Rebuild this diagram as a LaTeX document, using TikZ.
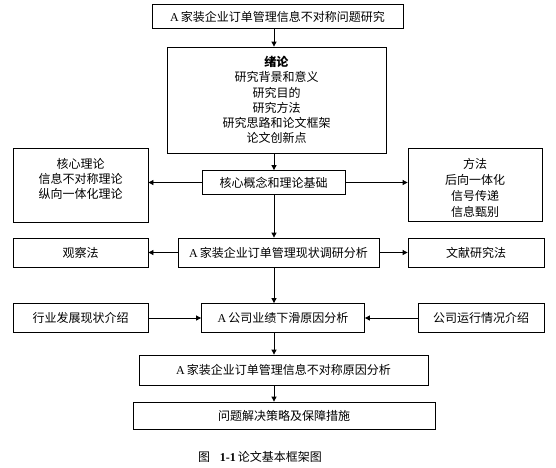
\documentclass[tikz,border=0pt]{standalone}
\usepackage{fontspec}
\setmainfont{Noto Sans CJK SC}
\newfontfamily\serif{Liberation Serif}
\usetikzlibrary{arrows.meta}
\begin{document}
\begin{tikzpicture}[x=1pt,y=-1pt,
  box/.style={draw,line width=0.8pt,rectangle,inner sep=0pt,align=center,font=\fontsize{12}{15.3}\selectfont},
  txt/.style={align=center,anchor=north,inner sep=0pt},
  arr/.style={line width=0.8pt,-{Triangle[length=5pt,width=5pt]}}]
\useasboundingbox (0,0) rectangle (556,467);
\coordinate (ax) at (274,0);
% nodes
\node[box,minimum width=251pt,minimum height=24pt] (t1) at (277.5,16.5) {{\serif A}\,家装企业订单管理信息不对称问题研究};
\node[box,minimum width=219pt,minimum height=106pt] (b2) at (276.5,100) {\textbf{绪论}\\研究背景和意义\\研究目的\\研究方法\\研究思路和论文框架\\论文创新点};
\node[box,minimum width=143pt,minimum height=24pt] (core) at (273.5,182.5) {核心概念和理论基础};
\node[box,minimum width=135pt,minimum height=74pt] (lt) at (80.5,185) {};
\node[txt,font=\fontsize{12}{15.3}\selectfont] (ltt) at (lt.north |- 0,158) {核心理论\\信息不对称理论\\纵向一体化理论};
\node[box,minimum width=134pt,minimum height=73pt] (rt) at (475,184.5) {};
\node[txt,font=\fontsize{12}{16.2}\selectfont] (rtt) at (rt.north |- 0,158) {方法\\后向一体化\\信号传递\\信息甄别};
\node[box,minimum width=201pt,minimum height=29pt] (sv) at (278.5,252.5) {{\serif A}\,家装企业订单管理现状调研分析};
\node[box,minimum width=135pt,minimum height=29pt] (gc) at (80.5,252.5) {观察法};
\node[box,minimum width=136pt,minimum height=29pt] (wx) at (476,252.5) {文献研究法};
\node[box,minimum width=163pt,minimum height=29pt] (yj) at (283,318) {{\serif A}\,公司业绩下滑原因分析};
\node[box,minimum width=135pt,minimum height=29pt] (hy) at (80.5,318) {行业发展现状介绍};
\node[box,minimum width=126pt,minimum height=29pt] (gs) at (481,318) {公司运行情况介绍};
\node[box,minimum width=289pt,minimum height=30pt] (yy) at (283.5,370) {{\serif A}\,家装企业订单管理信息不对称原因分析};
\node[box,minimum width=302pt,minimum height=27pt] (wt) at (284,415.5) {问题解决策略及保障措施};
\node[font=\fontsize{12}{14}\selectfont,inner sep=0pt] (cap) at (260,457) {图\hspace{0.8em}{\serif\bfseries 1-1}\,论文基本框架图};
% connectors
\draw[arr] (t1.south -| ax) -- (b2.north -| ax);
\draw[arr] (b2.south -| ax) -- (core.north -| ax);
\draw[arr] (core.west) -- (core.west -| lt.east);
\draw[arr] (core.east) -- (core.east -| rt.west);
\draw[arr] (core.south -| ax) -- (sv.north -| ax);
\draw[arr] (sv.west) -- (gc.east);
\draw[arr] (sv.east) -- (wx.west);
\draw[arr] (sv.south -| ax) -- (yj.north -| ax);
\draw[arr] (hy.east) -- (yj.west);
\draw[arr] (gs.west) -- (yj.east);
\draw[arr] (yj.south -| ax) -- (yy.north -| ax);
\draw[arr] (yy.south -| ax) -- (wt.north -| ax);
\end{tikzpicture}
\end{document}
